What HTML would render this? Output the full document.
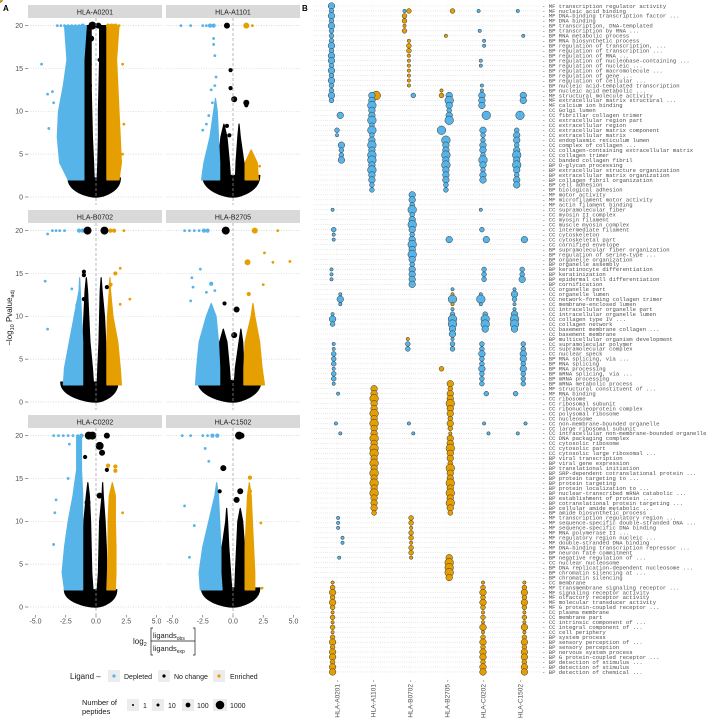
<!DOCTYPE html>
<html><head><meta charset="utf-8"><style>
body{margin:0;background:#fff}
svg{display:block;font-family:"Liberation Sans",sans-serif}
.lbl{font-family:"Liberation Mono",monospace;font-size:5.6px;fill:#4d4d4d}
</style></head><body>
<svg id="fig" width="712" height="720" viewBox="0 0 712 720" xmlns="http://www.w3.org/2000/svg">
<text x="3" y="11" font-size="8" font-weight="bold">A</text>
<text x="302" y="11" font-size="8" font-weight="bold">B</text>
<g id="pa"></g>
<g id="pb"></g>
<text transform="translate(12,318) rotate(-90)" font-size="8" fill="#1a1a1a" text-anchor="middle">−log<tspan font-size="5.5" dy="2">10</tspan><tspan dy="-2"> Pvalue</tspan><tspan font-size="5.5" dy="2">adj</tspan></text>
<g fill="#1a1a1a">
<text x="133" y="644" font-size="8">log<tspan font-size="5.5" dy="2">2</tspan></text>
<path d="M153,628 h-2 v27 h2 M193,628 h2 v27 h-2 M151,641 h44" stroke="#1a1a1a" stroke-width="0.7" fill="none"/>
<text x="153" y="638" font-size="7.5">ligands<tspan font-size="5" dy="2">obs</tspan></text>
<text x="153" y="651" font-size="7.5">ligands<tspan font-size="5" dy="2">exp</tspan></text>
</g>
<g font-size="7" fill="#1a1a1a">
<text x="70" y="679" font-size="8">Ligand –</text>
<rect x="108" y="670" width="12" height="12" fill="#ececec"/><circle cx="114" cy="676" r="1.6" fill="#56B4E9"/>
<text x="124" y="679">Depleted</text>
<rect x="158" y="670" width="12" height="12" fill="#ececec"/><circle cx="164" cy="676" r="1.6" fill="#000"/>
<text x="174" y="679">No change</text>
<rect x="213" y="670" width="12" height="12" fill="#ececec"/><circle cx="219" cy="676" r="1.6" fill="#E69F00"/>
<text x="230" y="679">Enriched</text>
</g>
<g font-size="7" fill="#1a1a1a">
<text x="82" y="705" font-size="7.5">Number of</text><text x="82" y="714" font-size="7.5">peptides</text>
<rect x="127" y="699" width="12" height="12" fill="#ececec"/><circle cx="133" cy="705" r="1" fill="#000"/><text x="143" y="708">1</text>
<rect x="152" y="699" width="12" height="12" fill="#ececec"/><circle cx="158" cy="705" r="1.5" fill="#000"/><text x="168" y="708">10</text>
<rect x="182" y="699" width="12" height="12" fill="#ececec"/><circle cx="188" cy="705" r="2.4" fill="#000"/><text x="197" y="708">100</text>
<rect x="213" y="699" width="14" height="12" fill="#ececec"/><circle cx="220" cy="705" r="4.3" fill="#000"/><text x="230" y="708">1000</text>
</g>
</svg>
<script>
// ---------- Panel A data ----------
const alleles = ["HLA-A0201","HLA-A1101","HLA-B0702","HLA-B2705","HLA-C0202","HLA-C1502"];
const yLv = [2,4,7,10,13,16,20];
const bLo = [[-2.3,-3.0,-3.2,-3.1,-2.7,-2.4,-2.6],[-2.6,-2.4,-1.9,-1.6,-1.3,-1.3,-1.3],[-2.7,-2.6,-2.2,-1.8,-1.4,-1.3,-1.3],[-3.1,-3.0,-2.8,-2.2,-1.5,-1.5,-1.5],[-2.6,-2.8,-2.6,-2.3,-1.9,-1.6,-1.6],[-2.7,-2.8,-2.5,-2.0,-1.5,-1.2,-1.2]];
const bHi = [[-1.0,-1.0,-1.0,-1.0,-1.0,-1.0,-0.8],[-1.1,-1.1,-1.2,-1.3,-1.3,-1.3,-1.3],[-1.1,-1.1,-1.1,-1.2,-1.3,-1.3,-1.3],[-1.1,-1.1,-1.2,-1.4,-1.5,-1.5,-1.5],[-1.1,-1.1,-1.1,-1.1,-1.1,-1.2,-1.2],[-0.9,-1.0,-1.0,-1.1,-1.2,-1.2,-1.2]];
const kLLo = [[-1.0,-1.0,-1.0,-1.0,-1.0,-1.0,-0.8],[-1.3,-1.2,-1.0,-0.6,-0.5,-0.5,-0.5],[-1.2,-1.2,-1.1,-1.0,-0.9,-0.7,-0.7],[-1.2,-1.2,-1.1,-0.8,-0.8,-0.8,-0.8],[-1.2,-1.2,-1.1,-1.0,-0.8,-0.6,-0.6],[-1.0,-1.0,-0.9,-0.6,-0.5,-0.5,-0.5]];
const kLHi = [[-0.15,-0.2,-0.3,-0.35,-0.4,-0.4,-0.4],[-0.2,-0.3,-0.5,-0.6,-0.5,-0.5,-0.5],[-0.2,-0.3,-0.5,-0.6,-0.7,-0.7,-0.7],[-0.2,-0.3,-0.5,-0.8,-0.8,-0.8,-0.8],[-0.25,-0.35,-0.4,-0.45,-0.55,-0.6,-0.6],[-0.1,-0.2,-0.35,-0.45,-0.5,-0.5,-0.5]];
const kRLo = [[0.1,0.15,0.2,0.2,0.25,0.3,0.3],[0.2,0.25,0.4,0.5,0.5,0.5,0.5],[0.1,0.15,0.25,0.3,0.35,0.5,0.5],[0.1,0.2,0.5,0.8,0.8,0.8,0.8],[0.1,0.2,0.25,0.3,0.5,0.6,0.6],[0.15,0.2,0.3,0.4,0.6,0.6,0.6]];
const kRHi = [[0.9,0.9,0.9,0.9,0.9,0.9,0.9],[0.95,0.9,0.6,0.5,0.5,0.5,0.5],[0.85,0.85,0.8,0.7,0.5,0.5,0.5],[1.0,0.9,0.8,0.8,0.8,0.8,0.8],[0.9,0.9,0.85,0.75,0.6,0.6,0.6],[1.0,1.0,0.95,0.8,0.6,0.6,0.6]];
const oLo = [[0.9,0.9,0.9,0.9,0.9,0.9,0.9],[1.0,1.0,1.2,1.2,1.2,1.2,1.2],[0.9,0.9,0.9,0.95,1.1,1.1,1.1],[0.9,0.9,1.0,1.5,1.6,1.6,1.6],[0.9,0.95,1.0,1.0,1.1,1.4,1.4],[1.0,1.0,1.0,1.1,1.2,1.4,1.4]];
const oHi = [[1.9,2.1,2.0,1.9,1.8,1.7,1.9],[2.1,2.0,1.2,1.2,1.2,1.2,1.2],[2.1,2.0,1.8,1.4,1.2,1.1,1.1],[2.6,2.4,2.2,1.8,1.6,1.6,1.6],[1.6,1.65,1.65,1.6,1.6,1.4,1.4],[1.8,1.8,1.7,1.6,1.5,1.4,1.4]];
const bowlLo = [-2.3,-2.5,-2.9,-2.9,-2.6,-2.6];
const bowlHi = [2.0,2.2,1.8,2.3,1.7,2.2];
const bowlTop = [2.2,2.5,2.3,2.5,2.0,2.2];
// scattered points: "x,y,size,color" (size a-d, color b=depleted k=no change o=enriched)
const scatter = [
"-3.2,20,a,b -2.9,20,a,b -2.6,20,a,b -2.3,20,a,b -2.0,20,a,b -1.7,20,a,b -1.4,20,a,b -1.1,20,b,b -4.5,15.5,a,b -3.6,12.3,a,b -4.0,12,a,b -3.5,11,a,b -3.9,8,a,b -0.3,20,d,k -0.4,18.5,c,k -0.6,15.5,c,k -0.5,13,b,k 0.2,20,c,k 0.3,16,b,k 1.0,20,b,o 1.3,20,b,o 1.6,20,b,o 1.9,20,a,o 2.2,15.5,a,o 2.3,8.5,a,o 2.2,5,a,o",
"-4.3,20,a,b -3.5,20,a,b -2.5,20,a,b -2.2,20,a,b -1.9,20,b,b -1.6,20,b,b -1.6,18.5,a,b -1.6,17.8,a,b -1.5,16.5,a,b -1.4,14,a,b -1.5,13,a,b -1.8,12.5,a,b -2.0,9.5,a,b -2.5,7.8,a,b -2.2,8.5,a,b -1.7,11,a,b -0.5,20,c,k -0.2,14.8,b,k -0.2,12.7,b,k 0.1,11.4,c,k 1.1,11,c,k 1.1,10.7,b,k -0.5,8.3,b,k -0.3,7.2,b,k 1.1,20,c,o 1.6,20,a,o 2.2,3.6,a,o",
"-4.0,19.6,a,b -3.6,20,a,b -3.3,20,a,b -3.0,20,a,b -2.6,20,a,b -1.4,20,b,b -1.1,20,b,b -4.2,14.1,a,b -4.0,8.5,a,b -2.0,13.2,a,b -1.6,11.3,a,b -0.7,20,d,k 0.7,20,d,k -1.0,15.2,b,k -1.0,14.8,b,k -1.0,12,b,k 0.9,13.4,b,k 1.2,20,b,o 1.5,20,b,o 2.3,20,a,o 2.0,15.6,a,o 1.6,15,b,o 2.8,12,a,o 2.0,11.4,a,o 1.2,13.7,b,o",
"-4.0,20,a,b -3.6,20,a,b -3.2,20,a,b -2.8,20,a,b -2.4,20,b,b -2.1,20,b,b -2.7,15.5,a,b -3.4,14.5,a,b -3.3,13.4,a,b -3.5,11.8,a,b -1.8,13.8,b,b -1.5,13,a,b -2.2,12.8,a,b -0.6,20,d,k -0.7,11.5,b,k 0.3,10.8,c,k 0.1,7.8,c,k 1.8,20,c,o 3.7,20,a,o 1.2,16.3,c,o 2.6,17.4,a,o 3.3,16.3,a,o 4.7,16.4,a,o 1.3,12.6,b,o 2.5,13.7,a,o",
"-3.5,20,a,b -3.1,20,a,b -2.7,20,a,b -2.3,20,a,b -1.9,20,a,b -1.5,20,a,b -1.2,20,b,b -2.2,19,a,b -1.5,18.5,a,b -3.3,12.5,a,b -3.5,7.3,a,b -3.4,11,a,b -2.3,15,a,b -0.6,20,d,k -0.3,20,d,k 0.9,20,c,k 0.3,18.8,d,k 0.5,18,c,k -0.9,17.5,b,k 0.9,16,b,k 0.3,13,c,k -0.7,12.2,c,k 1.0,16.5,b,o 1.6,16.4,b,o 1.6,15.9,b,o 2.2,11,a,o",
"-4.2,20,a,b -3.5,20,a,b -2.5,20,a,b -2.1,20,a,b -1.7,20,b,b -1.3,20,b,b -4.0,11.8,a,b -2.3,18.5,a,b -2.0,17,a,b -3.2,9.5,a,b -3.6,5.8,a,b 0.5,20,d,k 0.7,20,c,k -0.8,16.2,c,k 0.6,13.5,c,k 0.3,12.5,c,k -1.1,13.5,b,k 1.4,15.1,b,o 1.4,13.5,b,o 2.3,9.8,a,o 2.4,2.2,a,o"
];
const xTicks = [-5,-2.5,0,2.5,5];
const yTicks = [0,5,10,15,20];

// ---------- Panel B data ----------
const goTerms = ["MF transcription regulator activity","MF nucleic acid binding","MF DNA-binding transcription factor ...","MF DNA binding","BP transcription, DNA-templated","BP transcription by RNA ...","BP RNA metabolic process","BP RNA biosynthetic process","BP regulation of transcription, ...","BP regulation of transcription ...","BP regulation of RNA ...","BP regulation of nucleobase-containing ...","BP regulation of nucleic ...","BP regulation of macromolecule ...","BP regulation of gene ...","BP regulation of cellular ...","BP nucleic acid-templated transcription","BP nucleic acid metabolic ...","MF structural molecule activity","MF extracellular matrix structural ...","MF calcium ion binding","CC Golgi lumen","CC fibrillar collagen trimer","CC extracellular region part","CC extracellular region","CC extracellular matrix component","CC extracellular matrix","CC endoplasmic reticulum lumen","CC complex of collagen ...","CC collagen-containing extracellular matrix","CC collagen trimer","CC banded collagen fibril","BP O-glycan processing","BP extracellular structure organization","BP extracellular matrix organization","BP collagen fibril organization","BP cell adhesion","BP biological adhesion","MF motor activity","MF microfilament motor activity","MF actin filament binding","CC supramolecular fiber","CC myosin II complex","CC myosin filament","CC muscle myosin complex","CC intermediate filament","CC cytoskeleton","CC cytoskeletal part","CC cornified envelope","BP supramolecular fiber organization","BP regulation of serine-type ...","BP organelle organization","BP organelle assembly","BP keratinocyte differentiation","BP keratinization","BP epidermal cell differentiation","BP cornification","CC organelle part","CC organelle lumen","CC network-forming collagen trimer","CC membrane-enclosed lumen","CC intracellular organelle part","CC intracellular organelle lumen","CC collagen type IV ...","CC collagen network","CC basement membrane collagen ...","CC basement membrane","BP multicellular organism development","CC supramolecular polymer","CC supramolecular complex","CC nuclear speck","BP RNA splicing, via ...","BP RNA splicing","BP RNA processing","BP mRNA splicing, via ...","BP mRNA processing","BP mRNA metabolic process","MF structural constituent of ...","MF RNA binding","CC ribosome","CC ribosomal subunit","CC ribonucleoprotein complex","CC polysomal ribosome","CC nucleosome","CC non-membrane-bounded organelle","CC large ribosomal subunit","CC intracellular non-membrane-bounded organelle","CC DNA packaging complex","CC cytosolic ribosome","CC cytosolic part","CC cytosolic large ribosomal ...","BP viral transcription","BP viral gene expression","BP translational initiation","BP SRP-dependent cotranslational protein ...","BP protein targeting to ...","BP protein targeting","BP protein localization to ...","BP nuclear-transcribed mRNA catabolic ...","BP establishment of protein ...","BP cotranslational protein targeting ...","BP cellular amide metabolic ...","BP amide biosynthetic process","MF transcription regulatory region ...","MF sequence-specific double-stranded DNA ...","MF sequence-specific DNA binding","MF RNA polymerase II ...","MF regulatory region nucleic ...","MF double-stranded DNA binding","MF DNA-binding transcription repressor ...","BP neuron fate commitment","BP negative regulation of ...","CC nuclear nucleosome","BP DNA replication-dependent nucleosome ...","BP chromatin silencing at ...","BP chromatin silencing","CC membrane","MF transmembrane signaling receptor ...","MF signaling receptor activity","MF olfactory receptor activity","MF molecular transducer activity","MF G protein-coupled receptor ...","CC plasma membrane","CC membrane part","CC intrinsic component of ...","CC integral component of ...","CC cell periphery","BP system process","BP sensory perception of ...","BP sensory perception","BP nervous system process","BP G protein-coupled receptor ...","BP detection of stimulus ...","BP detection of stimulus","BP detection of chemical ..."];
// per-allele entries "row+code": a-d depleted (size 1-4), w-z enriched (size 1-4)
const goDots = [
"0c 1b 2c 3b 4c 5b 6b 7b 8c 9b 10c 11c 12b 13c 14b 15c 16b 17b 18c 19b 22c 25b 26a 28c 29b 30b 31c 41a 45b 46a 47a 53a 54a 55a 58a 59c 60a 62a 63c 64b 68a 69a 70b 71b 72b 73a 74b 75b 76a 78a 84a 86a 103a 104a 105a 107a 108a 111a 116w 117x 118y 119x 120y 121x 122w 123x 124w 125x 126w 127x 128y 129x 130y 131y 132x 133y 134y",
"18z 18c 19c 20d 21c 22c 23d 24b 25d 26b 27c 28d 29c 30d 31d 32c 33d 34c 35c 36b 37b 77y 78y 79z 80y 81y 82z 83y 84z 85y 86y 87z 88y 89z 90z 91y 92z 93y 94z 95y 96z 97y 98z 99y 100y 101y 102x",
"0x 1x 1a 2x 3x 4w 5x 7w 8x 9x 10w 11w 12w 13w 14w 15w 16w 18b 38c 39c 40b 41d 42b 43c 44d 45c 46b 47c 48d 49c 50d 51c 52b 53c 54c 55c 56c 67w 68b 69b 84a 86a 103x 104x 105w 106x 107x 108w 109x 110x 111w",
"1x 6w 17w 18x 18c 19d 20c 21b 22c 23d 25d 27d 28c 29c 30d 31c 32d 33c 34c 35c 36b 37b 47c 57a 58w 59d 60w 61a 62b 63d 64d 65c 66c 67a 68b 69b 73x 76y 77x 78y 79y 80z 81y 82y 83x 84y 85x 86w 87y 88y 89z 90y 91y 92x 93z 94y 95y 96z 97y 98z 99y 100z 101y 102x 111y 112z 113z 114z 115y",
"1a 5a 7a 8a 11a 12a 16a 17a 18c 19c 20c 22d 25c 26b 27b 28c 29c 30b 31d 32c 33b 34c 35c 41a 45b 47c 53b 54b 55b 58a 59d 60a 62b 63d 64d 65c 68b 69b 70c 71b 72b 73c 74b 75b 76b 78b 84a 86a 116w 117x 118y 119x 120y 121x 122w 123x 124w 125y 126w 127x 128y 129x 130y 131y 132x 133y 134y",
"1a 6a 18c 19c 22d 25b 26c 27c 28b 29c 30d 31c 32d 33c 34b 35c 36c 47c 53b 54b 55c 57a 58c 59b 60a 61a 62c 63d 64d 65c 68b 69b 70c 71c 72b 73c 74b 75b 76b 78b 84a 86a 116w 117x 118y 119x 120y 121x 122w 123x 124w 125y 126w 127x 128y 129x 130y 131y 132x 133y 134y"
];

const NS="http://www.w3.org/2000/svg";
function mk(tag, attrs, parent){const e=document.createElementNS(NS,tag);for(const k in attrs)e.setAttribute(k,attrs[k]);parent.appendChild(e);return e;}
const BLUE="#56B4E9", ORANGE="#E69F00";

// ---------- Panel A drawing ----------
const pa=document.getElementById('pa');
const colX0=[28,166], colZero=[96,233], rowTop=[5,210,415], rowZero=[197,402,607];
const PW=134, XS=12.1, YS=8.57;
const defs=mk('defs',{},pa);
alleles.forEach((name,p)=>{
  const c=p%2, r=Math.floor(p/2);
  const sx=v=>colZero[c]+XS*v, sy=v=>rowZero[r]-YS*v;
  const x0=colX0[c], top=rowTop[r], ptop=top+13, pbot=rowZero[r]+8;
  const g=mk('g',{},pa);
  
  
  const strip=mk('rect',{x:x0,y:top,width:PW,height:13,fill:'#d9d9d9'},g);
  
  
  const st=mk('text',{x:x0+PW/2,y:top+9.3,'font-size':7,'text-anchor':'middle',fill:'#1a1a1a'},g);
  st.textContent=name;
  
  
  const cp=mk('clipPath',{id:'cp'+p},defs);
  mk('rect',{x:x0,y:ptop,width:PW,height:pbot-ptop},cp);
  yTicks.forEach(t=>{
    const gl=mk('line',{x1:x0,x2:x0+PW,y1:sy(t),y2:sy(t),stroke:'#cfcfcf','stroke-width':0.7,'stroke-dasharray':'1 1.5'},g);
    
    
    if(c===0){
      mk('line',{x1:25,x2:28,y1:sy(t),y2:sy(t),stroke:'#555','stroke-width':0.6},g);
      const tl=mk('text',{x:23,y:sy(t)+2.4,'font-size':7,'text-anchor':'end',fill:'#4d4d4d'},g);
      tl.textContent=t;
      
      
    }
  });
  if(r===2){
    xTicks.forEach(t=>{
      mk('line',{x1:sx(t),x2:sx(t),y1:pbot,y2:pbot+2.5,stroke:'#555','stroke-width':0.6},g);
      const tl=mk('text',{x:sx(t),y:pbot+8.5,'font-size':7,'text-anchor':'middle',fill:'#4d4d4d'},g);
      tl.textContent=t.toFixed(1);
      
      
    });
  }
  const pg=mk('g',{'clip-path':'url(#cp'+p+')'},g);
  function region(lo,hi,fill,nm){
    let n=-1;
    for(let i=0;i<lo.length;i++){ if(hi[i]-lo[i]>0.05) n=i; else break; }
    if(n<0) return;
    const L=[],H=[];
    for(let i=0;i<=n;i++){L.push([sx(lo[i]),sy(yLv[i])]);H.push([sx(hi[i]),sy(yLv[i])]);}
    if(n+1<lo.length){
      const yTop=yLv[n]+(yLv[n+1]-yLv[n])*0.5;
      L.push([sx((lo[n]+hi[n])/2),sy(yTop)]);
    }
    const pts=L.concat(H.reverse()).map(q=>q[0]+','+q[1]).join(' ');
    const pl=mk('polygon',{points:pts,fill:fill,stroke:fill,'stroke-width':1.2,'stroke-linejoin':'round'},pg);
    
    
  }
  const bl=bowlLo[p], bh=bowlHi[p], bt=bowlTop[p];
  const bw=mk('path',{d:`M${sx(bl)},${sy(bt)} C${sx(bl)},${sy(bt*0.3)} ${sx(bl*0.3)},${sy(0)} ${sx(0)},${sy(0)} C${sx(bh*0.3)},${sy(0)} ${sx(bh)},${sy(bt*0.3)} ${sx(bh)},${sy(bt)} Z`,fill:'#000',stroke:'#000','stroke-width':1.5},pg);
  
  
  region(kLLo[p],kLHi[p],'#000','no-change-left');
  region(kRLo[p],kRHi[p],'#000','no-change-right');
  region(bLo[p],bHi[p],BLUE,'depleted-cloud');
  region(oLo[p],oHi[p],ORANGE,'enriched-cloud');
  const R={a:1.4,b:2.1,c:3,d:4};
  scatter[p].split(' ').forEach(s=>{
    const q=s.split(',');
    const col=q[3]==='b'?BLUE:q[3]==='o'?ORANGE:'#000';
    const ci=mk('circle',{cx:sx(+q[0]),cy:sy(+q[1]),r:R[q[2]],fill:col},pg);
    
    
  });
  mk('line',{x1:sx(0),x2:sx(0),y1:ptop,y2:pbot,stroke:'#9a9a9a','stroke-width':0.7,'stroke-dasharray':'3 2'},g);
});

// ---------- Panel B drawing ----------
const pb=document.getElementById('pb');
const colPos=[337,373,410,447,483,520];
const rowY=i=>6+i*4.97;
goTerms.forEach((t,i)=>{
  const ln=mk('line',{x1:314,x2:541,y1:rowY(i),y2:rowY(i),stroke:'#cfcfcf','stroke-width':0.6,'stroke-dasharray':'0.8 1.4'},pb);
  
  
  const tx=mk('text',{x:542,y:rowY(i)+1.8,class:'lbl'},pb);
  tx.textContent='- '+t;
  
  
});
colPos.forEach(x=>{mk('line',{x1:x,x2:x,y1:2,y2:676,stroke:'#e4e4e4','stroke-width':0.5,'stroke-dasharray':'0.8 1.4'},pb);});
const RB={a:1.7,b:2.4,c:3.3,d:4.3,w:1.7,x:2.4,y:3.3,z:4.3};
goDots.forEach((s,ci)=>{
  s.split(' ').forEach((tok,k)=>{
    const row=parseInt(tok), code=tok.replace(/[0-9]/g,'');
    const jit=(((row*37+ci*13+k*7)%11)-5)*1.1;
    const enr='wxyz'.indexOf(code)>=0;
    const d=mk('circle',{cx:colPos[ci]+jit,cy:rowY(row),r:RB[code],fill:enr?ORANGE:BLUE,stroke:'#333','stroke-width':0.5},pb);
    
    
  });
  const lb=mk('text',{transform:`translate(${colPos[ci]+2.3},680) rotate(-90)`,'font-size':6.5,'text-anchor':'end',fill:'#4d4d4d'},pb);
  lb.textContent=alleles[ci]+' -';
  
  
});
</script>
</body></html>
